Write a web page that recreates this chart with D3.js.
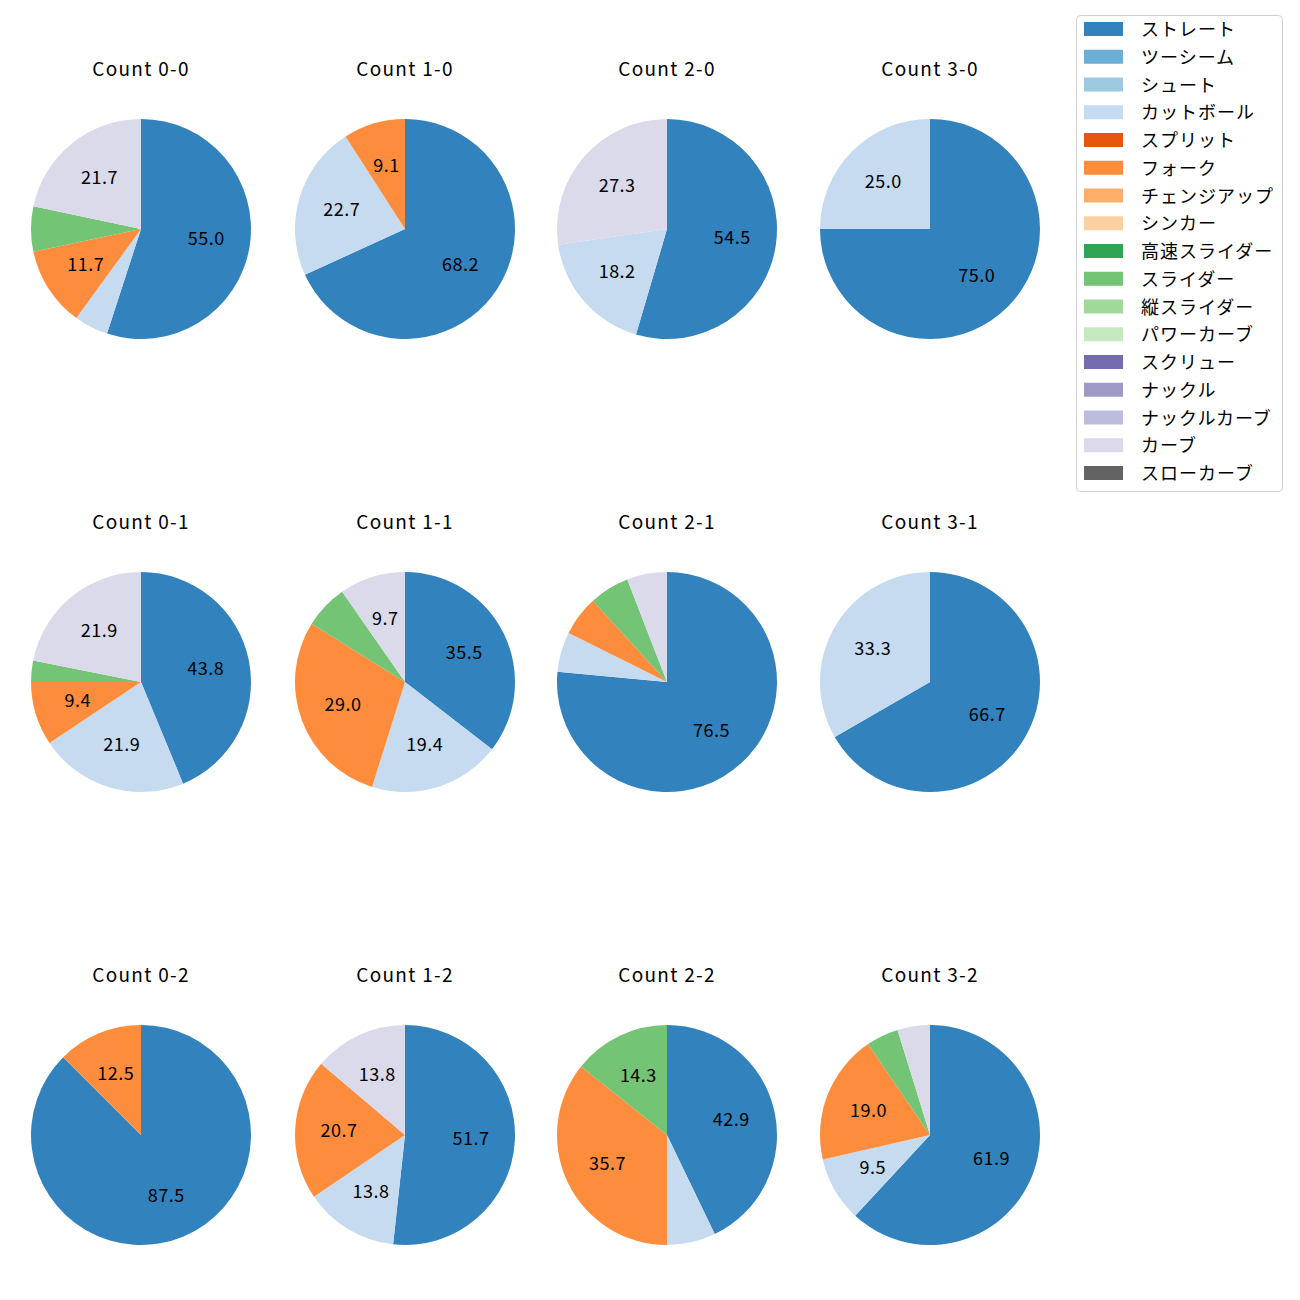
<!DOCTYPE html>
<html><head><meta charset="utf-8">
<script src="https://cdn.jsdelivr.net/npm/d3@7"></script>
<style>body{margin:0;background:#fff;}</style>
</head><body>
<script>
const pitchTypes = ["ストレート","ツーシーム","シュート","カットボール","スプリット","フォーク","チェンジアップ","シンカー","高速スライダー","スライダー","縦スライダー","パワーカーブ","スクリュー","ナックル","ナックルカーブ","カーブ","スローカーブ"];
const colors = ["#3182bd","#6baed6","#9ecae1","#c6dbef","#e6550d","#fd8d3c","#fdae6b","#fdd0a2","#31a354","#74c476","#a1d99b","#c7e9c0","#756bb1","#9e9ac8","#bcbddc","#dadaeb","#636363"];
const counts = ["Count 0-0","Count 1-0","Count 2-0","Count 3-0","Count 0-1","Count 1-1","Count 2-1","Count 3-1","Count 0-2","Count 1-2","Count 2-2","Count 3-2"];
// pitch counts per count, in pitchTypes order
const values = [
  [33,0,0,3,0,7,0,0,0,4,0,0,0,0,0,13,0],
  [15,0,0,5,0,2,0,0,0,0,0,0,0,0,0,0,0],
  [6,0,0,2,0,0,0,0,0,0,0,0,0,0,0,3,0],
  [3,0,0,1,0,0,0,0,0,0,0,0,0,0,0,0,0],
  [14,0,0,7,0,3,0,0,0,1,0,0,0,0,0,7,0],
  [11,0,0,6,0,9,0,0,0,2,0,0,0,0,0,3,0],
  [13,0,0,1,0,1,0,0,0,1,0,0,0,0,0,1,0],
  [2,0,0,1,0,0,0,0,0,0,0,0,0,0,0,0,0],
  [7,0,0,0,0,1,0,0,0,0,0,0,0,0,0,0,0],
  [15,0,0,4,0,6,0,0,0,0,0,0,0,0,0,4,0],
  [6,0,0,1,0,5,0,0,0,2,0,0,0,0,0,0,0],
  [13,0,0,2,0,4,0,0,0,1,0,0,0,0,0,1,0]
];
const labelThreshold = 8;

const W = 1300, H = 1300;
const svg = d3.select("body").append("svg").attr("width", W).attr("height", H)
  .style("font-family", "'Noto Sans CJK JP','Noto Sans',sans-serif");

const colX = d3.scaleOrdinal().domain([0,1,2,3]).range([141,405,667,930]);
const rowY = d3.scaleOrdinal().domain([0,1,2]).range([229,682,1135]);
const R = 110;
const color = d3.scaleOrdinal().domain(pitchTypes).range(colors);

const pie = d3.pie().sort(null).value(d => d.v).startAngle(0).endAngle(2*Math.PI);
const arc = d3.arc().innerRadius(0).outerRadius(R);
const labelArc = d3.arc().innerRadius(R*0.6).outerRadius(R*0.6);

counts.forEach((title, i) => {
  const cx = colX(i % 4), cy = rowY(Math.floor(i / 4));
  const total = d3.sum(values[i]);
  const data = pitchTypes.map((p, k) => ({p, v: values[i][k]})).filter(d => d.v > 0);
  const g = svg.append("g").attr("transform", `translate(${cx},${cy})`);
  const arcs = pie(data);
  g.selectAll("path").data(arcs).join("path")
    .attr("d", arc).attr("fill", d => color(d.data.p));
  g.selectAll("text.lbl").data(arcs.filter(d => d.data.v / total * 100 >= labelThreshold)).join("text")
    .attr("class","lbl")
    .attr("transform", d => { const c = labelArc.centroid(d); return `translate(${c[0]},${c[1]-2})`; })
    .attr("text-anchor","middle").attr("dominant-baseline","central")
    .attr("font-size", 18).attr("letter-spacing", 0.5).attr("fill","#000")
    .text(d => (d.data.v / total * 100).toFixed(1));
  svg.append("text").attr("x", cx).attr("y", cy - 162).attr("text-anchor","middle")
    .attr("dominant-baseline","central").attr("font-size", 19).attr("letter-spacing", 1.3)
    .attr("fill","#000").text(title);
});

// legend
const lg = svg.append("g");
lg.append("rect").attr("x",1076.5).attr("y",15.5).attr("width",206).attr("height",476)
  .attr("rx",4).attr("fill","#fff").attr("stroke","#d0d0d0");
const ly = d3.scaleLinear().domain([0,16]).range([29,473]);
pitchTypes.forEach((p, k) => {
  lg.append("rect").attr("x",1084).attr("y",ly(k)-7).attr("width",39).attr("height",14).attr("fill",color(p));
  lg.append("text").attr("x",1141).attr("y",ly(k)-1).attr("dominant-baseline","central")
    .attr("font-size",18).attr("letter-spacing",1).attr("fill","#000").text(p);
});
</script>
</body></html>
